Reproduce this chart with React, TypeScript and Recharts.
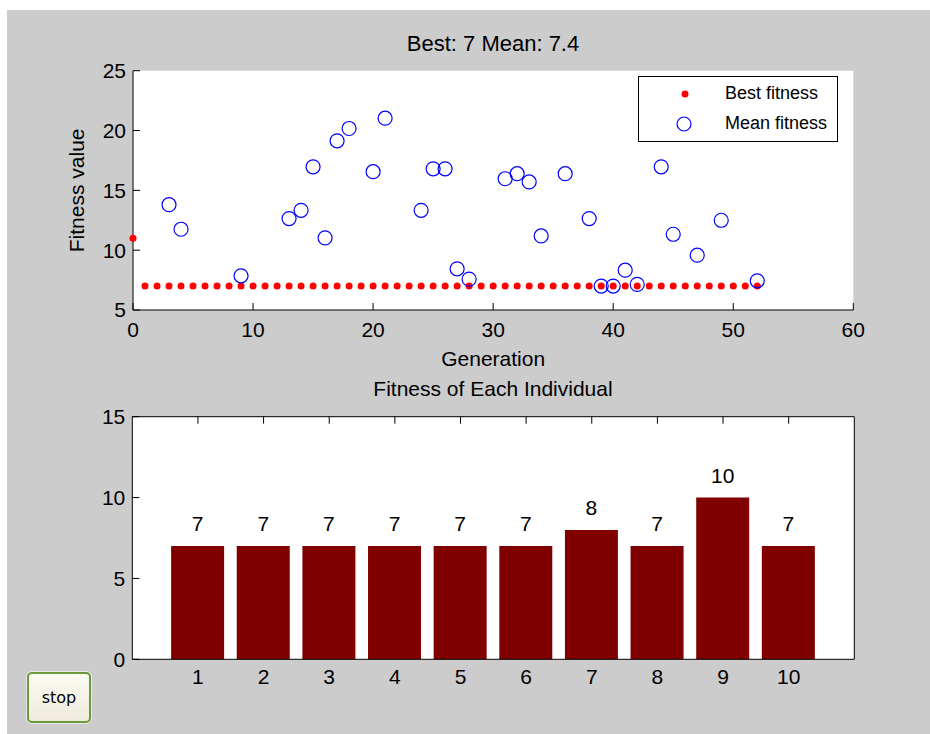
import React from 'react';
import {
  ScatterChart,
  Scatter,
  BarChart,
  Bar,
  XAxis,
  YAxis,
  CartesianGrid,
  LabelList,
} from 'recharts';

// ---- data ----
const bestGenerations = [
  0, 1, 2, 3, 4, 5, 6, 7, 8, 9, 10, 11, 12, 13, 14, 15, 16, 17, 18, 19, 20, 21, 22, 23, 24, 25, 26,
  27, 28, 29, 30, 31, 32, 33, 34, 35, 36, 37, 38, 39, 40, 41, 42, 43, 44, 45, 46, 47, 48, 49, 50,
  51, 52,
];
const bestValues = [
  11, 7, 7, 7, 7, 7, 7, 7, 7, 7, 7, 7, 7, 7, 7, 7, 7, 7, 7, 7, 7, 7, 7, 7, 7, 7, 7, 7, 7, 7, 7, 7, 7,
  7, 7, 7, 7, 7, 7, 7, 7, 7, 7, 7, 7, 7, 7, 7, 7, 7, 7, 7, 7,
];
// mean fitness points that fall inside the 5..25 window
const meanGenerations = [
  3, 4, 9, 13, 14, 15, 16, 17, 18, 20, 21, 24, 25, 26, 27, 28, 31, 32, 33, 34, 36, 38, 39, 40, 41,
  42, 44, 45, 47, 49, 52,
];
const meanValues = [
  13.8, 11.75, 7.86, 12.64, 13.33, 16.97, 11.03, 19.14, 20.17, 16.56, 21.03, 13.33, 16.8, 16.8,
  8.44, 7.58, 15.97, 16.39, 15.7, 11.19, 16.39, 12.64, 7.0, 7.0, 8.33, 7.14, 16.97, 11.33, 9.58,
  12.5, 7.44,
];
const genTicks = [0, 10, 20, 30, 40, 50, 60];
const fitTicks = [5, 10, 15, 20, 25];

const individuals = [1, 2, 3, 4, 5, 6, 7, 8, 9, 10];
const individualFitness = [7, 7, 7, 7, 7, 7, 8, 7, 10, 7];
const indivYTicks = [0, 5, 10, 15];

const FONT = '"Liberation Sans", Arial, sans-serif';

const bestData = bestGenerations.map((g, i) => ({ x: g, y: bestValues[i] }));
const meanData = meanGenerations.map((g, i) => ({ x: g, y: meanValues[i] }));
const barData = individuals.map((n, i) => ({ x: n, v: individualFitness[i] }));

const tickStyle = { fontSize: 21, fill: '#000', fontFamily: FONT };
const blank = () => '';

function RedDot(p: any) {
  return <circle cx={p.cx} cy={p.cy} r={3.5} fill="#ff0000" />;
}
function BlueRing(p: any) {
  return <circle cx={p.cx} cy={p.cy} r={7} fill="none" stroke="#0000ff" strokeWidth={1.2} />;
}

function Legend() {
  return (
    <div
      style={{
        position: 'absolute',
        left: 638,
        top: 76,
        width: 198,
        height: 64,
        border: '1px solid #000',
        background: '#fff',
        fontFamily: FONT,
        fontSize: 18,
      }}
    >
      <svg width={198} height={64} style={{ position: 'absolute', left: 0, top: 0 }}>
        <circle cx={46} cy={17} r={3.5} fill="#ff0000" />
        <circle cx={45} cy={47} r={7} fill="none" stroke="#0000ff" strokeWidth={1.2} />
      </svg>
      <div style={{ position: 'absolute', left: 86, top: 6, lineHeight: '20px' }}>Best fitness</div>
      <div style={{ position: 'absolute', left: 86, top: 36, lineHeight: '20px' }}>Mean fitness</div>
    </div>
  );
}

export default function App() {
  return (
    <div
      style={{
        position: 'absolute',
        left: 0,
        top: 0,
        width: 930,
        height: 734,
        background: '#fff',
        overflow: 'hidden',
        fontFamily: FONT,
      }}
    >
      <div style={{ position: 'absolute', left: 7, top: 10, right: 0, bottom: 0, background: '#cccccc' }} />

      {/* top: best / mean fitness per generation */}
      <div
        style={{
          position: 'absolute',
          left: 0,
          top: 33,
          width: 930,
          textAlign: 'center',
          fontSize: 22,
          lineHeight: '22px',
          paddingLeft: 56,
          boxSizing: 'border-box',
        }}
      >
        Best: 7 Mean: 7.4
      </div>
      <div style={{ position: 'absolute', left: 0, top: 0 }}>
        <ScatterChart width={930} height={380} margin={{ top: 70.7, right: 76.7, bottom: 10, left: 73 }}>
          <CartesianGrid horizontal={false} vertical={false} fill="#ffffff" fillOpacity={1} />
          <XAxis
            type="number"
            dataKey="x"
            domain={[0, 60]}
            ticks={genTicks}
            height={60}
            stroke="#000"
            tick={tickStyle}
            tickSize={-7}
            tickMargin={19}
            label={{ value: 'Generation', position: 'insideBottom', offset: 4.5, fontSize: 21, fill: '#000', fontFamily: FONT }}
          />
          <YAxis
            type="number"
            dataKey="y"
            domain={[5, 25]}
            ticks={fitTicks}
            width={60}
            stroke="#000"
            tick={tickStyle}
            tickSize={-7}
            tickMargin={14}
            label={{ value: 'Fitness value', angle: -90, position: 'center', dx: -26, fontSize: 21, fill: '#000', fontFamily: FONT }}
          />
          <Scatter name="Best fitness" data={bestData} shape={RedDot} isAnimationActive={false} />
          <Scatter name="Mean fitness" data={meanData} shape={BlueRing} isAnimationActive={false} />
        </ScatterChart>
      </div>
      <Legend />

      {/* bottom: fitness of each individual */}
      <div
        style={{
          position: 'absolute',
          left: 0,
          top: 378,
          width: 930,
          textAlign: 'center',
          fontSize: 21,
          lineHeight: '21px',
          paddingLeft: 56,
          boxSizing: 'border-box',
        }}
      >
        Fitness of Each Individual
      </div>
      <div style={{ position: 'absolute', left: 0, top: 380 }}>
        <BarChart width={930} height={354} data={barData} margin={{ top: 35.7, right: 74.7, bottom: 34.7, left: 72.3 }}>
          <CartesianGrid horizontal={false} vertical={false} fill="#ffffff" fillOpacity={1} />
          <XAxis
            type="number"
            dataKey="x"
            domain={[0, 11]}
            ticks={individuals}
            height={40}
            stroke="#000"
            tick={tickStyle}
            tickLine={false}
            tickSize={0}
            tickMargin={10}
          />
          <XAxis
            xAxisId="top"
            orientation="top"
            type="number"
            dataKey="x"
            domain={[0, 11]}
            ticks={individuals}
            height={1}
            stroke="#000"
            tickSize={-7}
            tickFormatter={blank}
          />
          <YAxis
            type="number"
            domain={[0, 15]}
            ticks={indivYTicks}
            width={60}
            stroke="#000"
            tick={tickStyle}
            tickSize={-7}
            tickMargin={14}
          />
          <YAxis
            yAxisId="right"
            orientation="right"
            type="number"
            domain={[0, 15]}
            ticks={indivYTicks}
            width={1}
            stroke="#000"
            tickSize={-7}
            tickFormatter={blank}
          />
          <Bar dataKey="v" fill="#800000" barSize={53} isAnimationActive={false}>
            <LabelList dataKey="v" position="top" offset={15} fill="#000" fontSize={21} fontFamily={FONT} />
          </Bar>
        </BarChart>
      </div>

      <div
        style={{
          position: 'absolute',
          left: 27,
          top: 672,
          width: 60,
          height: 47,
          border: '2px solid #6b9a3c',
          borderRadius: 5,
          background: 'linear-gradient(#fbfaf2, #efecdc)',
          boxShadow: '0 0 0 1px #e8e8e8',
          display: 'flex',
          alignItems: 'center',
          justifyContent: 'center',
          fontFamily: '"DejaVu Sans", sans-serif',
          fontSize: 16,
          color: '#000',
        }}
      >
        stop
      </div>
    </div>
  );
}
